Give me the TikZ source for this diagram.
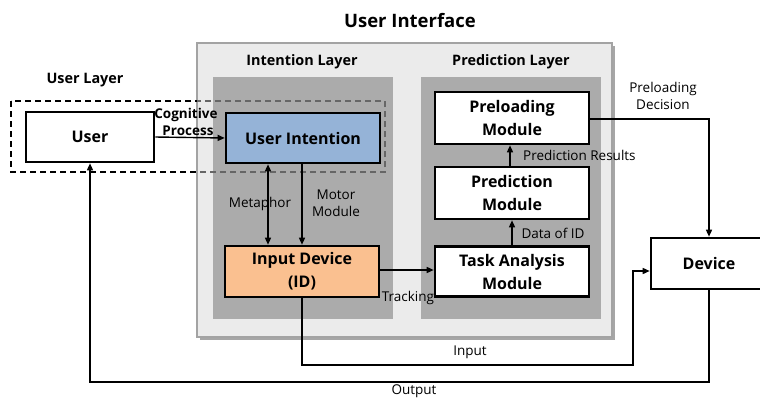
\documentclass[tikz,border=0pt]{standalone}
\usepackage{fontspec}
\setmainfont{Open Sans}
\usetikzlibrary{arrows.meta}
\definecolor{panelgray}{HTML}{ABABAB}
\definecolor{framefill}{HTML}{EBEBEB}
\definecolor{frameline}{HTML}{A3A3A3}
\definecolor{intentblue}{HTML}{95B3D7}
\definecolor{deviceorange}{HTML}{FAC090}
\tikzset{
  x=1pt, y=-1pt,
  modbox/.style={draw=black, line width=2.6pt, minimum width=#1, minimum height=50pt,
    align=center, font=\bfseries\fontsize{16}{23}\selectfont, inner sep=0pt},
  modbox/.default=154pt,
  conn/.style={line width=1.4pt, -{Triangle[length=7pt,width=6pt]}},
  plain/.style={line width=1.4pt},
  lbl/.style={font=\fontsize{13.5}{17.5}\selectfont, align=center, inner sep=0pt},
  hdr/.style={font=\bfseries\fontsize{14.4}{15}\selectfont, inner sep=0pt},
}
\begin{document}
\begin{tikzpicture}
\useasboundingbox (0,0) rectangle (760,397);
\fill[white] (0,0) rectangle (760,397);

% title and outer frame with its shadow
\node[font=\bfseries\fontsize{18.5}{20}\selectfont] (title) at (410,21) {User Interface};
\fill[gray!70] (200,46) rectangle (615,340);
\filldraw[fill=framefill, draw=frameline, line width=2.5pt] (197,43) rectangle (612,337);

% the two layer panels
\fill[panelgray] (213,77) rectangle (393,319);
\fill[panelgray] (421,77) rectangle (601,319);
\node[hdr] (ilayer) at (302,62) {Intention Layer};
\node[hdr] (player) at (511,62) {Prediction Layer};
\node[hdr] (ulayer) at (85,80) {User Layer};

% dashed user layer outline: black outside the frame, grey inside it
\begin{scope}
  \clip (0,0) rectangle (197,397);
  \draw[dashed, dash pattern=on 6pt off 4pt, line width=2pt] (11,101) rectangle (385,172);
\end{scope}
\begin{scope}
  \clip (197,0) rectangle (760,397);
  \draw[dashed, dash pattern=on 6pt off 4pt, line width=1.6pt, black!60] (11,101) rectangle (385,172);
\end{scope}

% modules
\node[modbox=128pt, fill=white] (user) at (90,137) {User};
\node[modbox, fill=intentblue] (intent) at (303,138) {User Intention};
\node[modbox=154pt, minimum height=51pt, fill=deviceorange] (input) at (302,271.5) {Input Device\\(ID)};
\node[modbox, fill=white] (task) at (512,271.5) {Task Analysis\\Module};
\node[modbox, minimum height=52pt, fill=white] (pred) at (512,193) {Prediction\\Module};
\node[modbox, minimum height=52pt, fill=white] (preload) at (512,118) {Preloading\\Module};
\node[modbox=120pt, minimum height=51pt, fill=white] (device) at (711,263.5) {};
\node[font=\bfseries\fontsize{16}{18}\selectfont, inner sep=0pt] (devtxt) at (709,263.5) {Device};

% connectors
\draw[conn] (user.east) -- (intent.west);
\node[lbl, font=\bfseries\fontsize{13.5}{16.5}\selectfont] (cog) at (186,122) {Cognitive\\\hspace*{4pt}Process};

\draw[plain, {Triangle[length=7pt,width=6pt]}-{Triangle[length=7pt,width=6pt]}]
  (intent.south -| 268,0) -- (input.north -| 268,0);
\node[lbl] (meta) at (260,204) {Metaphor};
\draw[conn] (intent.south -| 302,0) -- (input.north -| 302,0);
\node[lbl] (motor) at (336,203) {Motor\\Module};

\draw[conn] (input.east |- 0,270) -- (task.west |- 0,270);
\node[lbl] (track) at (408,298) {Tracking};

\draw[conn] (task.north -| 512,0) -- (pred.south -| 512,0);
\node[lbl] (dataid) at (553,233) {Data of ID};
\draw[conn] (pred.north -| 510,0) -- (preload.south -| 510,0);
\node[lbl, anchor=west] (presres) at (523,155) {Prediction Results};

\coordinate (pdturn) at (709,119);
\draw[conn] (preload.east |- pdturn) -- (pdturn) -- (device.north -| pdturn);
\node[lbl] (pdlbl) at (663,96) {Preloading\\Decision};

\coordinate (inA) at (302,365);
\coordinate (inB) at (633,365);
\coordinate (inC) at (633,271);
\draw[conn] (input.south) -- (inA) -- (inB) -- (inC) -- (device.west |- inC);
\node[lbl] (inlbl) at (470,352) {Input};

\coordinate (outA) at (709,382);
\coordinate (outB) at (90,382);
\draw[conn] (device.south -| outA) -- (outA) -- (outB) -- (user.south);
\node[lbl] (outlbl) at (414,391) {Output};
\end{tikzpicture}
\end{document}
